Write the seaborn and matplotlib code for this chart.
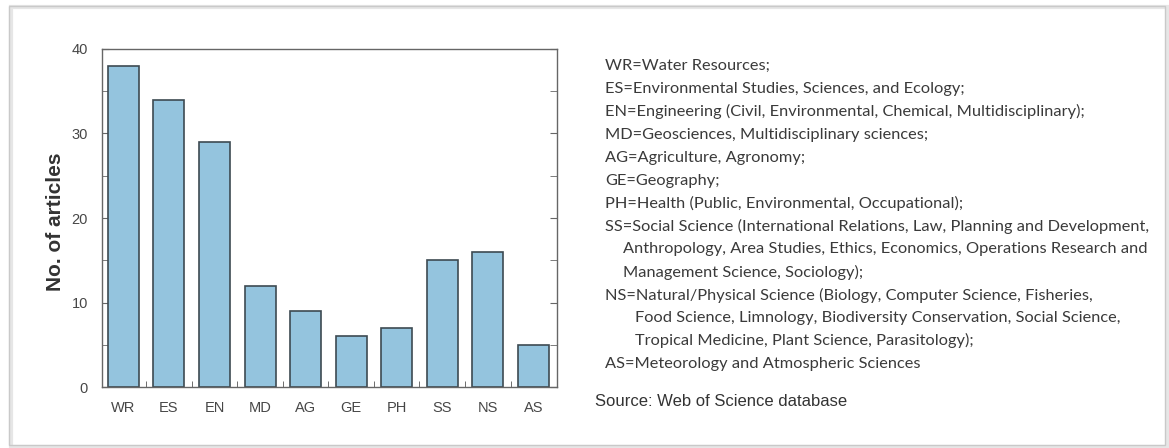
import numpy as np
import pandas as pd
import matplotlib
matplotlib.use("Agg")
import matplotlib.pyplot as plt
import seaborn as sns
from matplotlib.ticker import MultipleLocator, FixedLocator
from matplotlib.patches import Rectangle


categories = ['WR', 'ES', 'EN', 'MD', 'AG', 'GE', 'PH', 'SS', 'NS', 'AS']
articles = [38, 34, 29, 12, 9, 6, 7, 15, 16, 5]

key_lines = [
    'WR=Water Resources;',
    'ES=Environmental Studies, Sciences, and Ecology;',
    'EN=Engineering (Civil, Environmental, Chemical, Multidisciplinary);',
    'MD=Geosciences, Multidisciplinary sciences;',
    'AG=Agriculture, Agronomy;',
    'GE=Geography;',
    'PH=Health (Public, Environmental, Occupational);',
    'SS=Social Science (International Relations, Law, Planning and Development,',
    'Anthropology, Area Studies, Ethics, Economics, Operations Research and',
    'Management Science, Sociology);',
    'NS=Natural/Physical Science (Biology, Computer Science, Fisheries,',
    'Food Science, Limnology, Biodiversity Conservation, Social Science,',
    'Tropical Medicine, Plant Science, Parasitology);',
    'AS=Meteorology and Atmospheric Sciences',
]
key_indent = [0, 0, 0, 0, 0, 0, 0, 0, 1, 1, 0, 2, 2, 0]
source_note = 'Source: Web of Science database'

W, H = 1169, 448
sns.set_style('white')
plt.rcParams['font.family'] = ['Liberation Sans', 'DejaVu Sans']

fig = plt.figure(figsize=(W / 100, H / 100), dpi=100)


def fx(px):
    return px / W


def fy(py):
    return 1 - py / H


# outer frame with a soft shadow
fig.patches.append(Rectangle((fx(11), fy(447)), fx(1157), 440 / H, transform=fig.transFigure,
                             facecolor='none', edgecolor='#e6e6e6', lw=3, zorder=0))
fig.patches.append(Rectangle((fx(9), fy(445)), fx(1156), 439 / H, transform=fig.transFigure,
                             facecolor='none', edgecolor='#c9c9c9', lw=1.0, zorder=1))

ax = fig.add_axes([fx(102), fy(387), fx(557 - 102), (387 - 49) / H])

df = pd.DataFrame({'field': categories, 'n': articles})
sns.barplot(data=df, x='field', y='n', ax=ax, color='#94c4de', saturation=1,
            edgecolor='#3d4a52', linewidth=1.2, width=0.68)

ax.set_xlim(-0.47, 9.52)
ax.set_ylim(0, 40)
ax.yaxis.set_major_locator(MultipleLocator(10))
ax.yaxis.set_minor_locator(MultipleLocator(5))
ax.xaxis.set_minor_locator(FixedLocator(np.arange(0.5, 9, 1)))

for s in ax.spines.values():
    s.set_color('#666666')
    s.set_linewidth(1.0)

ax.tick_params(axis='x', which='major', length=0, labelsize=10.5, labelcolor='#474747', pad=10)
ax.tick_params(axis='x', which='minor', direction='in', length=4, color='#555555', bottom=True)
ax.tick_params(axis='y', which='both', direction='in', length=5, color='#666666',
               left=True, right=True, labelsize=10.5, labelcolor='#474747', pad=10)

ax.set_xlabel('')
ax.set_ylabel('No. of articles', fontsize=15, fontweight='bold', color='#333333')
ax.yaxis.set_label_coords(-0.082, 0.49)

y0 = 66
step = 22.9
indent_px = [605, 623, 635]
for i, (line, ind) in enumerate(zip(key_lines, key_indent)):
    fig.text(fx(indent_px[ind]), fy(y0 + i * step), line, fontsize=11.8, color='#3a3a3a',
             family=['Lato', 'DejaVu Sans'], va='center', ha='left')

fig.text(fx(595), fy(401), source_note, fontsize=12, color='#333333', va='center', ha='left')

fig.savefig('out.png', dpi=100)
